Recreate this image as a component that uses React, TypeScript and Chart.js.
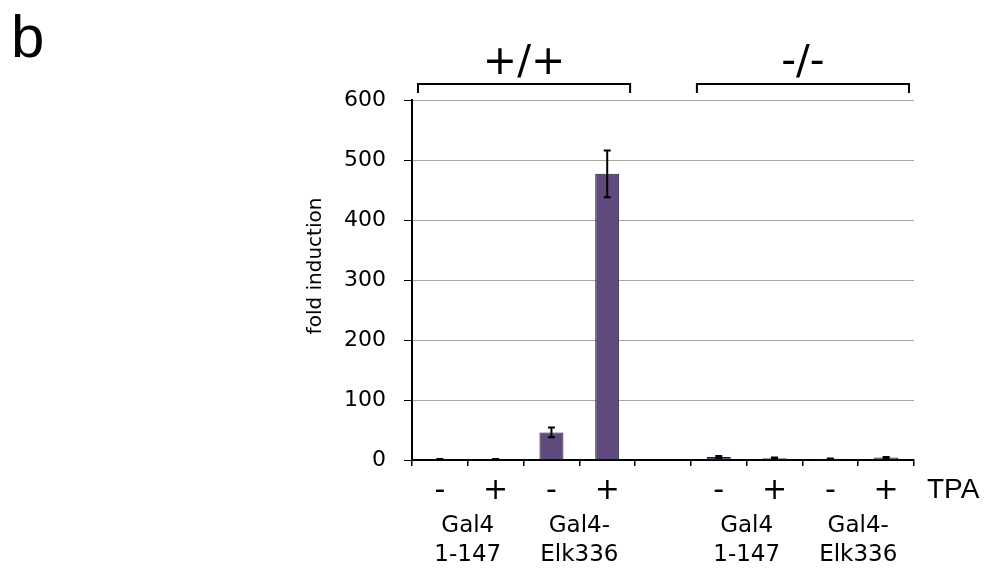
import React, { useEffect, useRef } from "react";
import { Chart, registerables } from "chart.js";

Chart.register(...registerables);

// ---- data ----
const categories = ["-", "+", "-", "+", "", "-", "+", "-", "+"];
const foldInduction: (number | null)[] = [1, 1, 46, 477, null, 5, 3, 2, 4];
const errorValues: (number | null)[] = [0.5, 0.5, 8, 39, null, 1.5, 1, 0.5, 1];
const yTickValues = [0, 100, 200, 300, 400, 500, 600];
const genotypeLabels = ["+/+", "-/-"];
const genotypeSpans = [
  [0, 3],
  [5, 8],
];
const constructLabels = [
  ["Gal4", "1-147"],
  ["Gal4-", "Elk336"],
  ["Gal4", "1-147"],
  ["Gal4-", "Elk336"],
];
const constructPairs = [
  [0, 1],
  [2, 3],
  [5, 6],
  [7, 8],
];
const panelLetter = "b";
const treatmentLabel = "TPA";
const yAxisTitle = "fold induction";

const W = 987;
const H = 571;

const extrasPlugin = {
  id: "extras",
  afterDatasetsDraw(chart: any) {
    const { ctx, scales } = chart;
    const xs = scales.x;
    const ys = scales.y;
    ctx.save();
    // error bars
    ctx.strokeStyle = "#000";
    ctx.lineWidth = 2;
    foldInduction.forEach((v, i) => {
      const e = errorValues[i];
      if (v == null || e == null) return;
      const x = xs.getPixelForValue(i);
      const yt = ys.getPixelForValue(v + e);
      const yb = ys.getPixelForValue(Math.max(0, v - e));
      ctx.beginPath();
      ctx.moveTo(x, yt);
      ctx.lineTo(x, yb);
      ctx.moveTo(x - 3.5, yt);
      ctx.lineTo(x + 3.5, yt);
      ctx.moveTo(x - 3.5, yb);
      ctx.lineTo(x + 3.5, yb);
      ctx.stroke();
    });
    ctx.restore();
  },
  afterDraw(chart: any) {
    const { ctx, scales, chartArea } = chart;
    const xs = scales.x;
    const half = (xs.getPixelForValue(1) - xs.getPixelForValue(0)) / 2;
    ctx.save();
    ctx.fillStyle = "#000";
    ctx.strokeStyle = "#000";

    // panel letter
    ctx.font = '60px "Liberation Sans", Arial, sans-serif';
    ctx.textAlign = "left";
    ctx.textBaseline = "alphabetic";
    ctx.fillText(panelLetter, 11, 57);

    // genotype brackets + labels
    genotypeSpans.forEach(([a, b], k) => {
      const x0 = xs.getPixelForValue(a) - half + 6;
      const x1 = xs.getPixelForValue(b) + half - 5;
      const yLine = chartArea.top - 16;
      ctx.lineWidth = 2;
      ctx.beginPath();
      ctx.moveTo(x0, yLine + 9);
      ctx.lineTo(x0, yLine);
      ctx.lineTo(x1, yLine);
      ctx.lineTo(x1, yLine + 9);
      ctx.stroke();
      ctx.font = '41px "DejaVu Sans", Verdana, sans-serif';
      ctx.textAlign = "center";
      ctx.textBaseline = "middle";
      ctx.fillText(genotypeLabels[k], (x0 + x1) / 2, 63);
    });

    // TPA label
    ctx.font = '28px "Liberation Sans", Arial, sans-serif';
    ctx.textAlign = "left";
    ctx.textBaseline = "alphabetic";
    ctx.fillText(treatmentLabel, 927, 498);

    // construct labels
    ctx.font = '23px "DejaVu Sans", Verdana, sans-serif';
    ctx.textAlign = "center";
    ctx.textBaseline = "middle";
    constructPairs.forEach(([a, b], k) => {
      const cx = (xs.getPixelForValue(a) + xs.getPixelForValue(b)) / 2;
      ctx.fillText(constructLabels[k][0], cx, 526);
      ctx.fillText(constructLabels[k][1], cx, 555);
    });

    // y-axis title
    ctx.font = '20px "DejaVu Sans", Verdana, sans-serif';
    ctx.translate(316, 266);
    ctx.rotate(-Math.PI / 2);
    ctx.textAlign = "center";
    ctx.textBaseline = "middle";
    ctx.fillText(yAxisTitle, 0, 0);
    ctx.restore();
  },
};

export default function App() {
  const ref = useRef<HTMLCanvasElement | null>(null);
  useEffect(() => {
    if (!ref.current) return;
    const chart = new Chart(ref.current, {
      type: "bar",
      data: {
        labels: categories,
        datasets: [
          {
            data: foldInduction,
            backgroundColor: "#5e4a7c",
            borderColor: "#231a30",
            borderWidth: 1,
            barPercentage: 0.43,
            categoryPercentage: 1,
          },
        ],
      },
      options: {
        responsive: false,
        animation: false,
        devicePixelRatio: 1,
        layout: { padding: { left: 302, right: 73, top: 100, bottom: 51 } },
        plugins: {
          legend: { display: false },
          tooltip: { enabled: false },
          title: { display: false },
        },
        scales: {
          x: {
            afterFit: (s: any) => {
              s.height = 60;
            },
            grid: {
              display: true,
              drawOnChartArea: false,
              offset: true,
              tickLength: 6,
              tickColor: "#000",
              lineWidth: 1.5,
            },
            border: { display: true, color: "#000", width: 2 },
            ticks: {
              color: "#000",
              font: { family: '"DejaVu Sans", Verdana, sans-serif', size: 30 },
              padding: 7,
              maxRotation: 0,
              autoSkip: false,
            },
          },
          y: {
            min: 0,
            max: 600,
            afterFit: (s: any) => {
              s.width = 110;
            },
            afterBuildTicks: (s: any) => {
              s.ticks = yTickValues.map((v) => ({ value: v }));
            },
            grid: {
              color: (c: any) => (c.tick && c.tick.value === 0 ? "#000" : "#a8a8a8"),
              tickColor: "#000",
              tickLength: 8,
              lineWidth: 1,
            },
            border: { display: true, color: "#000", width: 2 },
            ticks: {
              color: "#000",
              font: { family: '"DejaVu Sans", Verdana, sans-serif', size: 22 },
              padding: 18,
            },
          },
        },
      },
      plugins: [extrasPlugin],
    });
    return () => chart.destroy();
  }, []);
  return (
    <div style={{ position: "absolute", left: 0, top: 0, width: W, height: H, background: "#fff" }}>
      <canvas ref={ref} width={W} height={H} style={{ width: W, height: H, display: "block" }} />
    </div>
  );
}
